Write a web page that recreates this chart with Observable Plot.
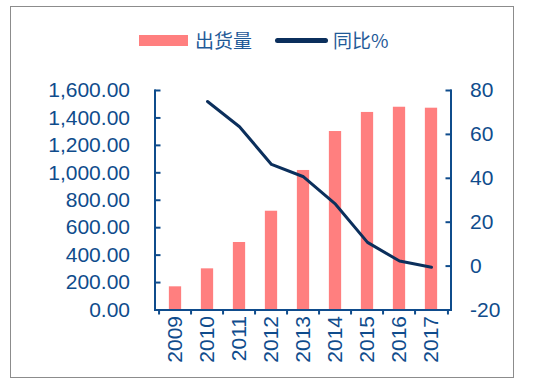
<!DOCTYPE html>
<html><head><meta charset="utf-8">
<script src="https://cdn.jsdelivr.net/npm/d3@7"></script>
<script src="https://cdn.jsdelivr.net/npm/@observablehq/plot@0.6"></script>
<style>
body{margin:0;background:#fff;}
#wrap{position:relative;width:550px;height:384px;overflow:hidden;background:#fff;}
#border{position:absolute;left:10px;top:6px;width:504px;height:372px;border:1px solid #8c8c8c;box-sizing:border-box;}
#chart{position:absolute;left:0;top:0;}
.lg{position:absolute;font-family:"Noto Sans CJK SC","Noto Sans",sans-serif;font-size:19px;color:#1f5a98;line-height:1;white-space:nowrap;}
</style>
</head><body>
<div id="wrap">
  <div id="border"></div>
  <div id="chart"></div>
  <div style="position:absolute;left:139px;top:35px;width:49px;height:11px;background:#FF7F7F;"></div>
  <div class="lg" style="left:195px;top:30px;">出货量</div>
  <div style="position:absolute;left:275px;top:38px;width:53px;height:5px;border-radius:3px;background:#0b2f5c;"></div>
  <div class="lg" style="left:333px;top:30px;">同比%</div>
</div>
<script>
const years = ["2009","2010","2011","2012","2013","2014","2015","2016","2017"];
const shipments = [169, 300, 492, 720, 1017, 1301, 1440, 1478, 1471];
const yoy = [null, 75.0, 63.5, 46.3, 40.7, 28.2, 10.8, 2.3, -0.5];
const leftTicks = [0, 200, 400, 600, 800, 1000, 1200, 1400, 1600];
const rightTicks = [-20, 0, 20, 40, 60, 80];
const seriesNames = ["出货量", "同比%"];

const toLeft = v => (v + 20) * 16;
const fromLeft = y => Math.round(y / 16 - 20);

const barData = years.map((y, i) => ({year: y, value: shipments[i]}));
const lineData = years.map((y, i) => ({year: y, v: yoy[i]})).filter(d => d.v != null);

const W = 550, H = 384, mL = 154.5, mR = 99.5, mT = 90, mB = 74.5;
const step = (W - mL - mR) / years.length;
const axisColor = "#0f4c8c";
const labelColor = "#0f4c8c";

const chart = Plot.plot({
  width: W, height: H,
  marginTop: mT, marginBottom: mB, marginLeft: mL, marginRight: mR,
  style: {fontFamily: "'Liberation Sans', Arial, sans-serif", background: "transparent", overflow: "visible"},
  x: {domain: years, padding: 0},
  y: {domain: [0, 1600]},
  marks: [
    Plot.barY(barData, {x: "year", y: "value", fill: "#FF7F7F", insetLeft: step * 0.3, insetRight: step * 0.3}),
    Plot.line(lineData, {x: "year", y: d => toLeft(d.v), stroke: "#0b2f5c", strokeWidth: 3}),
    Plot.frame({anchor: "left", stroke: axisColor, strokeWidth: 2}),
    Plot.frame({anchor: "right", stroke: axisColor, strokeWidth: 2}),
    Plot.frame({anchor: "bottom", stroke: axisColor, strokeWidth: 2}),
    Plot.axisY(leftTicks, {anchor: "left", label: null, tickSize: 6, dx: 6, text: null, stroke: axisColor, strokeWidth: 2}),
    Plot.axisY(leftTicks, {anchor: "left", label: null, tickSize: 0, tickPadding: 25, tickFormat: d3.format(",.2f"), fontSize: 21, fill: labelColor}),
    Plot.axisY(rightTicks.map(toLeft), {anchor: "right", label: null, tickSize: 6, dx: -6, text: null, stroke: axisColor, strokeWidth: 2}),
    Plot.axisY(rightTicks.map(toLeft), {anchor: "right", label: null, tickSize: 0, tickPadding: 19, tickFormat: fromLeft, fontSize: 21, fill: labelColor}),
    Plot.axisX(years, {anchor: "bottom", label: null, tickSize: 5, dx: -step / 2, text: null, stroke: axisColor, strokeWidth: 2}),
    Plot.axisX([years[years.length - 1]], {anchor: "bottom", label: null, tickSize: 5, dx: step / 2, text: null, stroke: axisColor, strokeWidth: 2}),
    Plot.axisX(years, {anchor: "bottom", label: null, tickSize: 0, tickPadding: 6, tickRotate: -90, fontSize: 21, fill: labelColor})
  ]
});
document.getElementById("chart").appendChild(chart);
</script>
</body></html>
